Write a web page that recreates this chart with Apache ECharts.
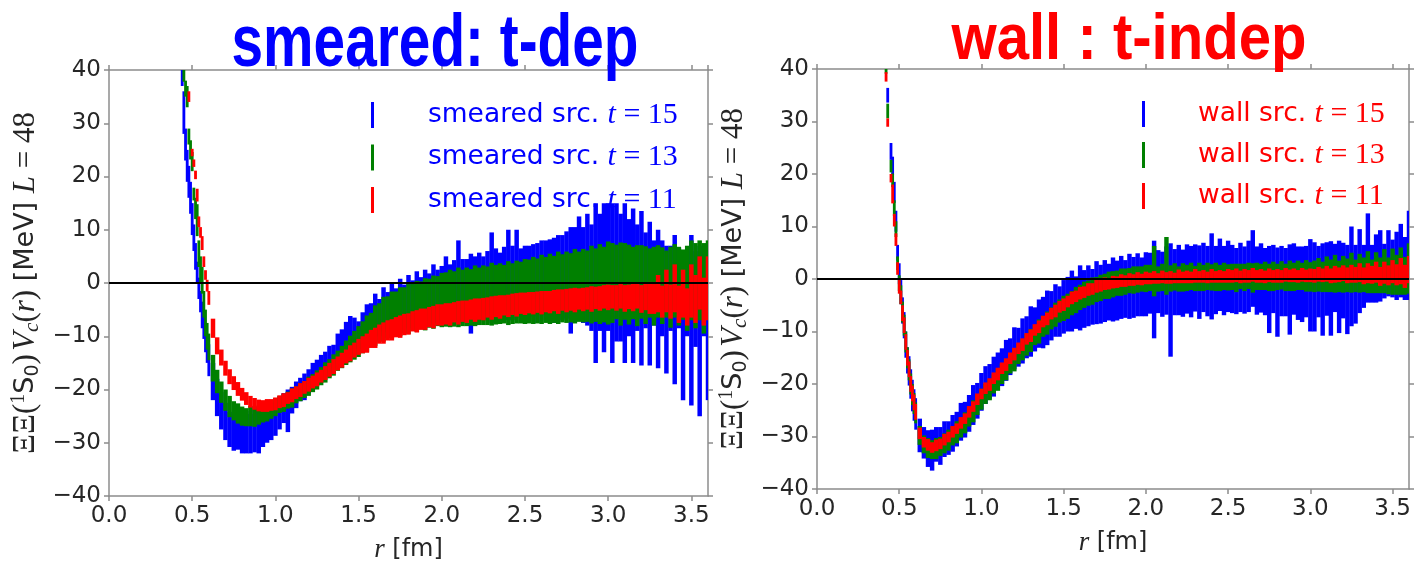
<!DOCTYPE html>
<html><head><meta charset="utf-8">
<script src="https://cdn.jsdelivr.net/npm/echarts@6/dist/echarts.min.js"></script>
<style>html,body{margin:0;padding:0;background:#fff}#c{width:1418px;height:570px}</style>
</head><body><div id="c"></div>
<script>
// ---------- r grids (fm) ----------
const rFineL = [0.44,0.45,0.46,0.47,0.48,0.49,0.50,0.51,0.52,0.53,0.54,0.55,0.56,0.57,0.58,0.59,0.60];
const rFineR = [0.42,0.43,0.44,0.45,0.46,0.47,0.48,0.49,0.50,0.51,0.52,0.53,0.54,0.55,0.56,0.57,0.58,0.59,0.60];
const rCoarse = [0.625,0.65,0.675,0.70,0.725,0.75,0.775,0.80,0.825,0.85,0.875,0.90,0.925,0.95,0.975,1.00,
1.025,1.05,1.075,1.10,1.125,1.15,1.175,1.20,1.225,1.25,1.275,1.30,1.325,1.35,1.375,1.40,1.425,1.45,1.475,1.50,
1.525,1.55,1.575,1.60,1.625,1.65,1.675,1.70,1.725,1.75,1.775,1.80,1.825,1.85,1.875,1.90,1.925,1.95,1.975,2.00,
2.025,2.05,2.075,2.10,2.125,2.15,2.175,2.20,2.225,2.25,2.275,2.30,2.325,2.35,2.375,2.40,2.425,2.45,2.475,2.50,
2.525,2.55,2.575,2.60,2.625,2.65,2.675,2.70,2.725,2.75,2.775,2.80,2.825,2.85,2.875,2.90,2.925,2.95,2.975,3.00,
3.025,3.05,3.075,3.10,3.125,3.15,3.175,3.20,3.225,3.25,3.275,3.30,3.325,3.35,3.375,3.40,3.425,3.45,3.475,3.50,
3.525,3.55,3.575,3.60];
const rL = rFineL.concat(rCoarse);
const rR = rFineR.concat(rCoarse);

// ---------- left panel: smeared source (value, error) ----------
const smeared15V = [39,32,26,22,19,16,12,8.5,5,2,-1,-3.5,-6,-8,-10.5,-12.5,-14.5,
-18.5,-21.5,-24,-26,-27.5,-28,-27.5,-28.5,-28,-28.3,-27.5,-28,-27,-26.5,-26.5,-25.5,
-24.5,-23.5,-24,-22,-21,-20,-19.5,-18.5,-17.5,-16.8,-16,-15.2,-14.3,-13.8,-12.5,-11.5,-10.5,-10,-9.5,-9.8,
-8.5,-7.5,-7,-6,-6.5,-5,-5.5,-4.5,-5,-4,-4.5,-3.5,-4,-3,-3.5,-2.5,-3,-2,-2.5,-2,
-1.5,-2,-1.5,0.5,-1.5,-1,-2,-1,-0.5,-1,-0.5,1,0,-0.5,0,1.5,0,2,0,0.5,
0,0.5,0,1,0.5,1,0.5,1.5,1,1.5,0.5,2,3,1.5,2.5,1,0,2,1,3,
0,2,1,0,1,-0.5,1,-1,0.5,-2,0,-3,-1,-5,-1,-5,-1,-8,-2,-7,
-3,-9,-2,-8];
const smeared15E = [2,4,3,3,3,3,3,2.5,2.5,2,2,2,2.5,2.5,2.5,2.5,3,
3.5,3.5,3.5,3.5,3.3,3.5,3.8,3.5,4,3.7,4.3,4,3.8,3.5,3,3.2,
3,2.8,4,2.5,2.5,2.2,2.5,2.3,2.5,2.4,2.5,2.3,2.5,2.2,3,2.8,3.2,3.8,3,2.6,
3,3.5,3.2,4,3.5,4.2,3.8,4.5,4,4.8,4.2,5,4.5,5.2,4.6,5,4.8,5.5,5,5.2,
6.5,5.5,5.8,7.5,6,5.5,7.5,6,6.2,6,6.5,8.5,6.5,6.2,6.8,8.5,7,8,6.5,6.5,
7,6.8,7.5,7,7.5,7.2,8,7.5,8,8.2,10,8.5,9.5,9,10.5,10,15,11,14,12,
15,13,12,15,11,14.5,10,14.5,9,13.5,8,13,9,12,8,14,7.5,14,8,16,
9,16,8,14];

const smeared13V = [null,39,36.5,35,27.5,25,22.8,16.7,14,11.8,5.5,2.5,0.5,-4,-7.5,-10,-12,
-16,-18.5,-20.5,-22,-23.2,-24,-24.5,-25,-25.2,-25,-25.3,-24.8,-24.5,-24.2,-23.8,-23.3,
-22.8,-22.5,-22,-21.6,-21,-20.5,-20,-19.4,-18.8,-18.2,-17.5,-16.8,-16.1,-15.4,-14.6,-13.9,-13.1,-12.4,-11.7,-11,
-10.2,-9.5,-8.8,-8,-7.4,-6.8,-6.4,-6,-5.7,-5.4,-5.1,-4.9,-4.6,-4.4,-4.2,-4,-3.8,-3.6,-3.4,-3.2,
-3.1,-2.9,-3,-2.7,-2.8,-2.6,-2.7,-2.4,-2.5,-2.3,-2.4,-2.1,-2.2,-2,-2.1,-1.9,-2,-1.7,-1.8,-1.6,
-1.6,-1.4,-1.5,-1.2,-1.3,-1.1,-1.2,-0.9,-1,-0.8,-0.9,-0.6,-0.7,-0.5,-0.6,-0.3,-0.4,-0.2,-0.3,0,
0,0.2,-0.2,0.3,-0.3,0,-0.5,0.2,-0.4,0,-0.6,0.3,-0.5,-0.2,-0.8,0.4,-0.6,-0.3,-1,0.5,
-0.5,0.5,-1,1];
const smeared13E = [null,1.2,1.5,2,1.5,1.8,1.8,1.2,2,3,2.5,2.5,2.5,2.5,2.5,2.5,2.5,
2.5,2.2,2,2,2,1.8,1.9,1.8,1.7,1.9,1.7,1.8,1.7,1.8,1.7,1.7,
1.6,1.7,1.6,1.8,1.6,1.7,1.6,1.8,1.7,1.8,1.7,1.9,1.8,2,1.9,2.1,2.3,2.5,2.7,2.9,
3,3.4,3.2,3.8,3.6,4.2,3.9,4.4,4.1,4.6,4.3,4.7,4.4,4.8,4.5,4.9,4.6,5,4.7,5.1,
5.1,5.4,5.2,5.6,5.3,5.5,5.3,5.7,5.4,5.6,5.5,5.9,5.6,5.7,5.5,6,5.7,5.9,5.8,6.1,
6,6.3,6.1,6.5,6.2,6.6,6.3,6.8,6.4,6.7,6.5,7,6.6,6.9,6.7,7.3,6.9,7.5,7.1,7.8,
7.5,7,7.8,7.2,7.5,6.8,7.6,6.9,7.3,6.5,7.4,6.8,7.2,6.3,7.6,6.9,7.4,6.6,8,7.5,
8,7.5,8.5,7];

const smeared11V = [null,null,null,null,35,null,24.5,22.5,20.3,16.5,11.5,9.5,7.5,4,1.5,-0.5,-2.8,
-8.5,-11.8,-14,-16,-17.6,-18.8,-19.9,-20.9,-21.7,-22.3,-22.7,-23,-23.1,-23,-22.9,-22.7,
-22.3,-22,-21.6,-21.1,-20.6,-20.1,-19.6,-19.1,-18.6,-18.1,-17.5,-16.9,-16.3,-15.7,-15.1,-14.5,-13.8,-13.2,-12.6,-12,
-11.6,-11.3,-10.5,-10.3,-9.6,-9.4,-8.9,-8.8,-8.3,-8.2,-7.8,-7.7,-7.2,-7.2,-6.8,-6.8,-6.4,-6.4,-6,-6,
-5.8,-5.9,-5.5,-5.6,-5.3,-5.4,-5,-5.1,-4.9,-4.9,-4.6,-4.7,-4.4,-4.5,-4.2,-4.3,-4,-4.1,-3.8,-3.9,
-3.7,-3.8,-3.6,-3.7,-3.5,-3.6,-3.3,-3.5,-3.2,-3.3,-3.1,-3.2,-3,-3.1,-2.9,-3,-2.8,-2.9,-2.6,-2.7,
-2.6,-2.8,-2.5,-2.9,-2.6,-2.7,-2.4,-3,-2.6,-2.8,-3,-2,-3.5,-1.5,-3.5,-1,-4,-2,-4.5,-1.5,
-3,0,-3.5,-1];
const smeared11E = [null,null,null,null,1,null,0.7,0.7,0.8,1.2,1,1,1.3,1,0.9,1.1,1.3,
1.8,1.6,1.5,1.4,1.4,1.3,1.3,1.2,1.2,1.1,1.1,1.1,1.1,1.2,1.1,1.2,
1.2,1.3,1.1,1.3,1.2,1.3,1.2,1.3,1.2,1.3,1.2,1.3,1.3,1.4,1.3,1.4,1.3,1.5,1.4,1.5,
1.6,1.8,1.7,1.9,1.8,2,1.9,2,1.9,2.1,2,2,1.9,2.1,2,2,1.9,2.1,2,2,
2,2.1,1.9,2.2,2,2.1,1.9,2.2,2,2.1,1.9,2.2,2,2.2,1.9,2.1,2,2.2,2,2.1,
2,2.1,2,2.2,2,2.1,2,2.3,2,2.2,2.1,2.3,2,2.2,2.1,2.4,2.1,2.3,2.2,2.4,
2.2,2.4,2.3,2.5,2.3,2.6,2.4,2.6,2.5,3,2.8,3.5,3,4,3.2,4.5,3.5,4.5,3.5,5,
4.5,5,4.5,6];

// ---------- right panel: wall source (value, error) ----------
const wall15V = [41.5,35,null,24.3,21.5,16.5,11,5,1,-2.5,-6,-8.8,-12.5,-15.5,-17.5,-20,-22.2,-24,-25.7,
-29.8,-31.2,-32.3,-32.6,-31.5,-31.8,-30.5,-30.3,-29.4,-28.6,-27.2,-26.8,-25.6,-24,-23.2,-21.5,
-20.2,-19.5,-18.6,-17.2,-16.8,-15.5,-14.8,-13.2,-13,-11.8,-11.1,-10,-9.6,-8.5,-8.3,-7.4,-7,-6,-6.2,-5.3,
-4.8,-4.2,-4.5,-3.6,-3.8,-3.2,-3.4,-2.6,-2.9,-2.3,-2.5,-2,-2.2,-1.6,-1.9,-1.4,-1.6,-1.1,-1.5,-1,
-0.8,-2,-0.5,-1,-0.3,-4,-0.6,-0.2,-0.8,0,-0.5,0.2,-0.6,0.3,-0.4,0.5,-0.2,0.8,-0.3,0.5,
0,-0.4,0.3,-0.2,0.5,2,-0.3,0.2,-0.5,-2,0,-2.5,-0.4,-0.6,-2,0,-0.8,-1,-0.5,-1.2,
-1.5,-0.5,-2,0,-1.8,0.2,-1.5,-0.3,-2,0.5,-1,1.5,0.5,4,1,2,2.5,1.5,3,2,
2.5,3.5,2,4.5];
const wall15E = [1,1.4,null,1.6,1.8,2,2,1.5,2,2.3,2.5,2.5,2.5,2.5,2.8,2.8,3,3,3,
3.2,3,3.5,3.9,3.3,3.6,3.4,3.2,3.5,3.3,3.6,3.4,3.5,3.8,3.4,3.6,
3.6,3.3,3.8,3.2,3.6,3.9,3.5,4,3.7,4.3,4,4.8,4.2,4.6,4.9,5.2,4.7,5,4.8,5.1,
5.2,5.8,5,6.2,5.5,5.8,5.3,6,5.6,5.9,5.4,6.1,5.7,6,5.5,6.2,5.8,6,5.6,6.1,
5.8,9.3,6,6.2,6.5,10.8,6.3,6.7,6.4,6.6,6.8,6.4,7,6.6,6.7,8.2,6.5,6.9,6.6,6.8,
6.5,6.3,6.6,6.4,6.8,7.3,6.5,6.6,6.4,8.3,6.5,8.5,6.7,6.5,8.6,6.8,7,7.2,6.8,8.8,
8.5,6.8,8.8,7,9,6.5,8.8,7.2,8.5,9.5,7.5,8,6,8.5,5.5,6.5,6.8,5.2,6.3,5.5,
6.5,7,6,8.5];

const wall13V = [39.6,32,null,21.5,18.8,13.5,9.5,3,-0.8,-3,-6.3,-8.8,-12,-15,-17.3,-20,-22,-23.7,-25.5,
-29.8,-31.5,-32.2,-32.5,-32.3,-31.9,-31.3,-30.7,-29.9,-29.2,-28.3,-27.4,-26.3,-25.2,-24,-22.9,
-21.9,-21.1,-20,-19.2,-18.1,-17.3,-16.2,-15.4,-14.3,-13.5,-12.5,-11.7,-10.7,-10,-9,-8.4,-7.5,-6.8,-6.1,-5.6,
-5.2,-4.6,-4,-3.5,-3,-2.7,-2.3,-2,-1.7,-1.4,-1.2,-1,-0.8,-0.6,-0.5,-0.3,-0.2,-0.1,0,0.1,
0.2,1.5,0,0.3,2.5,0.1,0.4,0,0.3,0.2,0.5,0.1,0.4,0.2,0.5,0.3,0.4,0.2,0.5,0.3,
0.4,0.2,0.5,0.3,0.6,0.2,0.5,0.4,0.6,0.3,0.5,0.4,0.7,0.3,0.6,0.4,0.7,0.5,0.6,0.4,
0.5,0.8,0.4,0.9,0.6,1,0.5,0.9,0.7,1.2,0.6,1.1,0.8,1.3,0.5,1.2,0.7,1.5,0.6,1.4,
0.8,1.5,0.6,2];
const wall13E = [0.5,1.4,null,1.2,1.3,1.5,1.5,1.3,1.5,1.8,2,2,2,2,2,2,2,2,2,
1.8,1.7,1.9,1.8,2,1.8,1.9,2,1.8,2.1,1.9,2,1.8,2.1,1.9,2,
1.9,2,1.8,2.1,1.9,2,1.8,2.2,1.9,2,2.1,2.2,1.9,2.3,2,2.2,2.1,2.3,2.2,2.4,
2.4,2.3,2.5,2.4,2.5,2.4,2.6,2.4,2.5,2.4,2.6,2.5,2.4,2.6,2.5,2.4,2.6,2.5,2.4,2.6,
2.5,4.8,2.4,2.6,5.5,2.5,2.6,2.4,2.7,2.5,2.6,2.4,2.7,2.5,2.6,2.5,2.7,2.5,2.6,2.5,
2.5,2.7,2.4,2.6,2.5,2.8,2.6,2.5,2.7,2.6,2.8,2.5,2.7,2.6,2.9,2.7,2.8,2.6,3,2.8,
3,3.2,2.9,3.4,3.1,3.6,3,3.5,3.2,3.8,3.1,3.7,3.3,4,3.2,3.9,3.4,4.2,3.5,4.4,
3.8,4.5,3.6,4.8];

const wall11V = [38.5,29.8,null,19.2,16.2,11.2,7.5,2,-1.5,-3.5,-6.5,-8.8,-12,-15,-17.2,-20,-21.8,-23.5,-25.3,
-29.4,-31.1,-31.6,-32.1,-31.7,-31.4,-30.6,-30.1,-29.1,-28.5,-27.4,-26.6,-25.3,-24.3,-22.9,-21.9,
-20.8,-20.1,-18.9,-18.1,-17,-16.3,-15.1,-14.3,-13.2,-12.5,-11.4,-10.8,-9.7,-9.1,-8.1,-7.6,-6.6,-6.1,-5.3,-4.9,
-4.3,-3.6,-3.3,-2.7,-2.5,-2,-1.9,-1.4,-1.3,-0.9,-0.9,-0.6,-0.6,-0.3,-0.4,-0.1,-0.2,0.1,-0.1,0.2,
0.1,0.3,0.1,0.4,0.2,0.3,0.2,0.5,0.3,0.4,0.3,0.6,0.4,0.5,0.3,0.6,0.4,0.5,0.4,0.6,
0.5,0.7,0.4,0.6,0.5,0.8,0.5,0.6,0.4,0.7,0.5,0.6,0.5,0.8,0.6,0.7,0.5,0.8,0.6,0.7,
0.6,0.9,0.7,1,0.6,0.9,0.8,1.1,0.7,1,0.8,1.2,0.6,1.1,0.8,1.3,0.5,1.2,0.7,1.4,
0.8,1.5,0.5,1.8];
const wall11E = [0.9,0.8,null,0.8,1.8,1.2,1.2,1.2,1.3,1.3,1.5,1.5,1.5,1.5,1.5,1.5,1.5,1.5,1.5,
1.1,1,1.1,1,1.1,1,1.1,1,1.1,1,1.1,1,1.1,1,1.1,1,
1.1,1.2,1.1,1.2,1.1,1.2,1.1,1.2,1.1,1.2,1.1,1.2,1.1,1.2,1.1,1.2,1.1,1.2,1.1,1.2,
1.1,1.2,1.1,1.2,1.1,1.2,1.1,1.2,1.1,1.2,1.1,1.2,1.1,1.2,1.1,1.2,1.1,1.2,1.1,1.2,
1.1,1.2,1,1.2,1.1,1.2,1,1.3,1.1,1.2,1.1,1.3,1.1,1.2,1.1,1.3,1.1,1.2,1.1,1.3,
1.2,1.3,1.2,1.3,1.2,1.3,1.2,1.3,1.2,1.3,1.2,1.3,1.2,1.3,1.2,1.3,1.2,1.3,1.2,1.3,
1.3,1.4,1.3,1.5,1.4,1.6,1.4,1.5,1.5,1.7,1.5,1.8,1.6,1.9,1.7,2,1.8,2.1,1.9,2.2,
2,2.5,2.2,2.6];

// ---------- ticks ----------
const xTicks = [0.0,0.5,1.0,1.5,2.0,2.5,3.0,3.5];
const yTicks = [-40,-30,-20,-10,0,10,20,30,40];

// ---------- build ----------
function pack(rs, vs, es) {
  const out = [];
  for (let i = 0; i < rs.length; i++) {
    if (vs[i] == null || es[i] == null) continue;
    out.push([rs[i], vs[i], es[i]]);
  }
  return out;
}
function renderErr(params, api) {
  const r = api.value(0), v = api.value(1), e = api.value(2);
  const p1 = api.coord([r, v + e]);
  const p2 = api.coord([r, v - e]);
  const w = api.size([r < 0.605 ? 0.017 : 0.027, 0])[0];
  const cs = params.coordSys;
  const h = Math.max(p2[1] - p1[1], 1.5);
  const rect = echarts.graphic.clipRectByRect(
    {x: p1[0] - w / 2, y: p1[1], width: w, height: h},
    {x: cs.x, y: cs.y, width: cs.width, height: cs.height});
  if (!rect) return null;
  return {type: 'rect', shape: rect, style: {fill: api.visual('color')}};
}

const BLUE = '#0000ff', GREEN = '#008000', RED = '#ff0000';
const SPINE = '#8c8c8c', LABEL = '#262626';
const mathFont = 'Liberation Serif', sansFont = 'DejaVu Sans';

function xAxes(gi) {
  const base = {
    type: 'value', gridIndex: gi, min: 0, max: 3.6, interval: 0.5,
    axisLine: {show: true, onZero: false, lineStyle: {color: SPINE, width: 1.5}},
    axisTick: {show: true, inside: false, length: 5, lineStyle: {color: SPINE, width: 1.5}},
    splitLine: {show: false}
  };
  return [
    Object.assign({}, base, {
      position: 'bottom',
      axisLabel: {show: true, margin: 9, fontFamily: sansFont, fontSize: 23, color: LABEL,
        showMaxLabel: false,
        formatter: v => (xTicks.some(t => Math.abs(t - v) < 1e-6) ? v.toFixed(1) : '')},
      name: '{i|r}{n| [fm]}', nameLocation: 'middle', nameGap: 40, nameMoveOverlap: false,
      nameTextStyle: {rich: {
        i: {fontFamily: mathFont, fontStyle: 'italic', fontSize: 27, color: LABEL},
        n: {fontFamily: sansFont, fontSize: 24, color: LABEL}}}
    }),
    Object.assign({}, base, {position: 'top', axisLabel: {show: false}})
  ];
}
function yAxes(gi) {
  const base = {
    type: 'value', gridIndex: gi, min: -40, max: 40, interval: 10,
    axisLine: {show: true, onZero: false, lineStyle: {color: SPINE, width: 1.5}},
    axisTick: {show: true, inside: false, length: 5, lineStyle: {color: SPINE, width: 1.5}},
    splitLine: {show: false}
  };
  const rich = {
    m: {fontFamily: mathFont, fontSize: 31, color: LABEL, lineHeight: 34},
    i: {fontFamily: mathFont, fontStyle: 'italic', fontSize: 31, color: LABEL, lineHeight: 34},
    s: {fontFamily: sansFont, fontSize: 27, color: LABEL, lineHeight: 34},
    sup: {fontFamily: mathFont, fontSize: 20, color: LABEL, lineHeight: 19, verticalAlign: 'top'},
    sub: {fontFamily: sansFont, fontSize: 19, color: LABEL, lineHeight: 19, verticalAlign: 'bottom'},
    subi: {fontFamily: mathFont, fontStyle: 'italic', fontSize: 21, color: LABEL, lineHeight: 21, verticalAlign: 'bottom'}
  };
  return [
    Object.assign({}, base, {
      position: 'left',
      axisLabel: {show: true, margin: 8, fontFamily: sansFont, fontSize: 23, color: LABEL,
        formatter: v => (yTicks.indexOf(v) >= 0 ? String(v).replace('-', '\u2212') : '')},
      name: '{m|\u039E\u039E(}{sup|1}{s|S}{sub|0}{m|)} {i|V}{subi|c}{m|(}{i|r}{m|)}{s| [MeV] }{i|L}{m| = 48}',
      nameLocation: 'middle', nameRotate: 90, nameGap: 66, nameMoveOverlap: false,
      nameTextStyle: {rich: rich}
    }),
    Object.assign({}, base, {position: 'right', axisLabel: {show: false}})
  ];
}

function errSeries(name, gi, color, rs, vs, es, z) {
  return {
    type: 'custom', name: name, xAxisIndex: gi * 2, yAxisIndex: gi * 2, z: z,
    renderItem: renderErr, itemStyle: {color: color}, silent: true,
    encode: {x: 0, y: 1}, data: pack(rs, vs, es)
  };
}
function zeroLine(gi) {
  return {type: 'line', xAxisIndex: gi * 2, yAxisIndex: gi * 2, data: [[0, 0], [3.6, 0]],
    symbol: 'none', silent: true, z: 10, lineStyle: {color: '#000', width: 2}};
}
function legendRich(color) {
  return {
    s: {fontFamily: sansFont, fontSize: 26.5, color: color, lineHeight: 30},
    i: {fontFamily: mathFont, fontStyle: 'italic', fontSize: 30, color: color, lineHeight: 30},
    n: {fontFamily: mathFont, fontSize: 30, color: color, lineHeight: 30}
  };
}
function legendFmt() {
  return function (name) {
    const k = name.indexOf(' t = ');
    return '{s|' + name.slice(0, k + 1) + '}{i|t}{n| = ' + name.slice(k + 5) + '}';
  };
}

const namesL = ['smeared src. t = 15', 'smeared src. t = 13', 'smeared src. t = 11'];
const namesR = ['wall src. t = 15', 'wall src. t = 13', 'wall src. t = 11'];

const option = {
  animation: false,
  backgroundColor: '#ffffff',
  grid: [
    {left: 109, top: 70, width: 599, height: 426, containLabel: false, outerBoundsMode: 'none'},
    {left: 817, top: 69, width: 592, height: 420, containLabel: false, outerBoundsMode: 'none'}
  ],
  xAxis: xAxes(0).concat(xAxes(1)),
  yAxis: yAxes(0).concat(yAxes(1)),
  legend: [
    {data: namesL, orient: 'vertical', left: 366, top: 95, itemWidth: 3, itemHeight: 26, itemGap: 12.5,
     icon: 'rect', selectedMode: false, formatter: legendFmt(),
     textStyle: {padding: [0, 0, 0, 49], rich: legendRich(BLUE)}},
    {data: namesR, orient: 'vertical', left: 1137, top: 94, itemWidth: 3, itemHeight: 26, itemGap: 11,
     icon: 'rect', selectedMode: false, formatter: legendFmt(),
     textStyle: {padding: [0, 0, 0, 48], rich: legendRich(RED)}}
  ],
  graphic: [
    {type: 'text', x: 435, y: 45, scaleX: 0.757, z: 100,
     style: {text: 'smeared: t-dep', fill: BLUE, fontFamily: 'Liberation Sans', fontWeight: 'bold',
       fontSize: 75, align: 'center', verticalAlign: 'middle', textAlign: 'center', textVerticalAlign: 'middle'}},
    {type: 'text', x: 1129, y: 41, scaleX: 0.908, z: 100,
     style: {text: 'wall : t-indep', fill: RED, fontFamily: 'Liberation Sans', fontWeight: 'bold',
       fontSize: 64, align: 'center', verticalAlign: 'middle', textAlign: 'center', textVerticalAlign: 'middle'}}
  ],
  series: [
    errSeries(namesL[0], 0, BLUE, rL, smeared15V, smeared15E, 2),
    errSeries(namesL[1], 0, GREEN, rL, smeared13V, smeared13E, 3),
    errSeries(namesL[2], 0, RED, rL, smeared11V, smeared11E, 4),
    zeroLine(0),
    errSeries(namesR[0], 1, BLUE, rR, wall15V, wall15E, 2),
    errSeries(namesR[1], 1, GREEN, rR, wall13V, wall13E, 3),
    errSeries(namesR[2], 1, RED, rR, wall11V, wall11E, 4),
    zeroLine(1)
  ]
};
const chart = echarts.init(document.getElementById('c'), null, {renderer: 'canvas'});
chart.setOption(option);
</script></body></html>
